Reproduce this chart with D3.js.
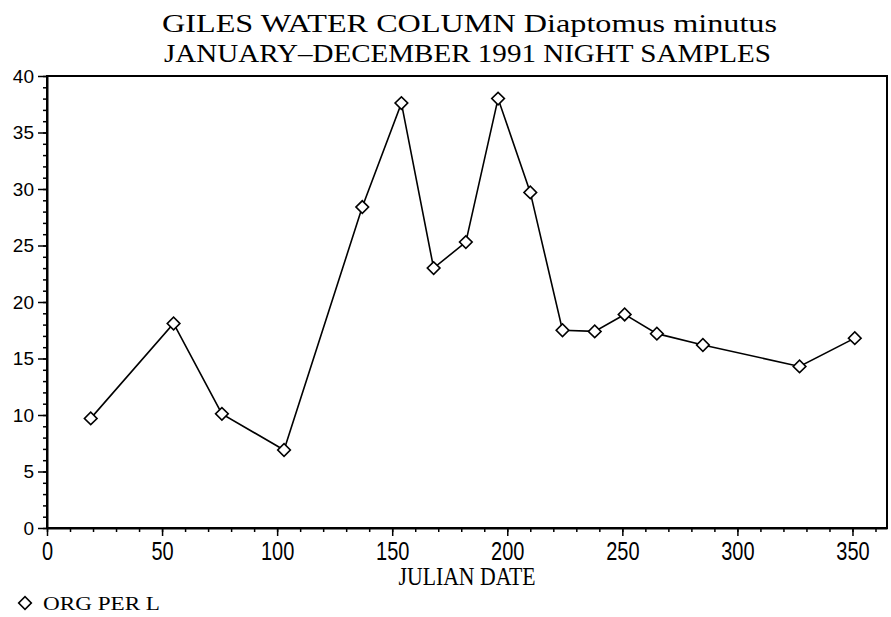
<!DOCTYPE html>
<html>
<head>
<meta charset="utf-8">
<script src="https://cdn.jsdelivr.net/npm/d3@7"></script>
<style>
  body { margin: 0; background: #fff; }
  svg { display: block; }
</style>
</head>
<body>
<div id="chart"></div>
<script>
var svgWidth = 891;
var svgHeight = 617;

// data
var julianDays = [19, 55, 76, 103, 137, 154, 168, 182, 196, 210, 224, 238, 251, 265, 285, 327, 351];
var orgPerL = [9.7, 18.1, 10.1, 6.9, 28.4, 37.6, 23.0, 25.3, 38.0, 29.7, 17.5, 17.4, 18.9, 17.2, 16.2, 14.3, 16.8];
var xMajorTicks = [0, 50, 100, 150, 200, 250, 300, 350];
var yMajorTicks = [0, 5, 10, 15, 20, 25, 30, 35, 40];
var titleLines = ["GILES WATER COLUMN Diaptomus minutus", "JANUARY\u2013DECEMBER 1991 NIGHT SAMPLES"];
var xLabel = "JULIAN DATE";
var legendLabel = "ORG PER L";

var margin = { top: 76, right: 4, bottom: 89, left: 47 };
var width = svgWidth - margin.left - margin.right;
var height = svgHeight - margin.top - margin.bottom;

var svg = d3.select("#chart")
  .append("svg")
  .attr("width", svgWidth)
  .attr("height", svgHeight);

var serif = "'Liberation Serif', 'DejaVu Serif', serif";
var sans = "'Liberation Sans', Arial, sans-serif";

// title
svg.selectAll("text.title")
  .data(titleLines)
  .enter()
  .append("text")
  .attr("class", "title")
  .attr("x", (d, i) => i == 0 ? 469.5 : 467.5)
  .attr("y", (d, i) => 32 + i * 30)
  .attr("text-anchor", "middle")
  .attr("textLength", (d, i) => i == 0 ? 615 : 607)
  .attr("lengthAdjust", "spacingAndGlyphs")
  .style("font-family", serif)
  .style("font-size", "25px")
  .text(d => d);

var chartGroup = svg.append("g")
  .attr("transform", `translate(${margin.left}, ${margin.top})`);

var xScale = d3.scaleLinear().domain([0, 365]).range([0, width]);
var yScale = d3.scaleLinear().domain([0, 40]).range([height, 0]);

// minor ticks
chartGroup.append("g")
  .attr("transform", `translate(0, ${height})`)
  .call(d3.axisBottom(xScale).tickValues(d3.range(0, 361, 10)).tickSize(4).tickFormat(""))
  .call(g => g.select(".domain").remove());
chartGroup.append("g")
  .call(d3.axisLeft(yScale).tickValues(d3.range(0, 41, 1)).tickSize(4).tickFormat(""))
  .call(g => g.select(".domain").remove());

// major ticks + labels
var xAxis = chartGroup.append("g")
  .attr("transform", `translate(0, ${height})`)
  .call(d3.axisBottom(xScale).tickValues(xMajorTicks).tickSize(8).tickSizeOuter(0));
xAxis.selectAll("text")
  .attr("dy", null)
  .attr("y", 32 / 1.3)
  .attr("transform", "scale(1,1.3)")
  .style("font-family", sans)
  .style("font-size", "20px")
  .attr("fill", "#000");

var yAxis = chartGroup.append("g")
  .call(d3.axisLeft(yScale).tickValues(yMajorTicks).tickSize(9).tickSizeOuter(0));
yAxis.selectAll("text")
  .attr("x", -13)
  .style("font-family", sans)
  .style("font-size", "19px")
  .attr("fill", "#000");

svg.selectAll(".tick line").attr("stroke", "#000").attr("stroke-width", 1.5);
svg.selectAll(".domain").attr("stroke", "#000").attr("stroke-width", 2);

// frame
chartGroup.append("rect")
  .attr("x", 0)
  .attr("y", 0)
  .attr("width", width)
  .attr("height", height)
  .attr("fill", "none")
  .attr("stroke", "#000")
  .attr("stroke-width", 2);

// x axis title
svg.append("text")
  .attr("text-anchor", "middle")
  .attr("transform", `translate(${margin.left + width / 2}, 585) scale(1,1.3)`)
  .attr("textLength", 137)
  .attr("lengthAdjust", "spacingAndGlyphs")
  .style("font-family", serif)
  .style("font-size", "19px")
  .text(xLabel);

// line
var points = julianDays.map((d, i) => [d, orgPerL[i]]);
var line = d3.line()
  .x(d => xScale(d[0]))
  .y(d => yScale(d[1]));

chartGroup.append("path")
  .datum(points)
  .attr("d", line)
  .attr("fill", "none")
  .attr("stroke", "#000")
  .attr("stroke-width", 1.6);

var diamond = d3.symbol().type(d3.symbolSquare).size(80);
chartGroup.selectAll("path.marker")
  .data(points)
  .enter()
  .append("path")
  .attr("class", "marker")
  .attr("d", diamond)
  .attr("transform", d => `translate(${xScale(d[0])}, ${yScale(d[1])}) rotate(45)`)
  .attr("fill", "#fff")
  .attr("stroke", "#000")
  .attr("stroke-width", 1.6);

// legend
svg.append("path")
  .attr("d", diamond)
  .attr("transform", "translate(25, 603) rotate(45)")
  .attr("fill", "#fff")
  .attr("stroke", "#000")
  .attr("stroke-width", 1.6);
svg.append("text")
  .attr("x", 43)
  .attr("y", 610)
  .attr("textLength", 117)
  .attr("lengthAdjust", "spacingAndGlyphs")
  .style("font-family", serif)
  .style("font-size", "19px")
  .text(legendLabel);
</script>
</body>
</html>
